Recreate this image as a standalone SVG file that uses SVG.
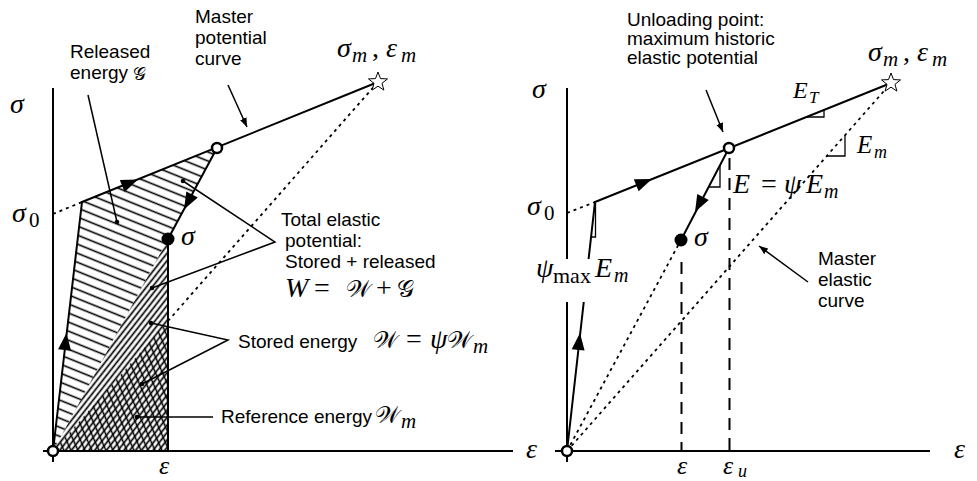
<svg xmlns="http://www.w3.org/2000/svg" xmlns:xlink="http://www.w3.org/1999/xlink" width="977" height="481" viewBox="0 0 977 481">
<style>
.ax{stroke:#000;stroke-width:2;fill:none}
.cv{stroke:#000;stroke-width:2;fill:none;stroke-linecap:round}
.dot{stroke:#000;stroke-width:1.8;fill:none;stroke-dasharray:3 4}
.dash{stroke:#000;stroke-width:2;fill:none;stroke-dasharray:12 8}
.ld{stroke:#000;stroke-width:1.5;fill:none}
.tri{stroke:#000;stroke-width:1.3;fill:none}
.t{font-family:"Liberation Sans",Arial,sans-serif;font-size:19px;fill:#000}
.m{font-family:"Liberation Serif","Times New Roman",serif;font-style:italic;font-size:28px;fill:#000}
.sub{font-size:21px}
.r{font-style:normal}
.sc{font-family:"DejaVu Sans","DejaVu Serif",serif;font-style:normal;font-size:24px}
.oc{fill:#fff;stroke:#000;stroke-width:2.5}
.fc{fill:#000}
.ldot{fill:#000}
</style>
<defs>
<pattern id="hRel" patternUnits="userSpaceOnUse" width="20" height="8.4" patternTransform="rotate(22)">
<line x1="-1" y1="4.2" x2="21" y2="4.2" stroke="#000" stroke-width="1.6"/>
</pattern>
<pattern id="hSt" patternUnits="userSpaceOnUse" width="20" height="4.6" patternTransform="rotate(-52)">
<line x1="-1" y1="2.3" x2="21" y2="2.3" stroke="#000" stroke-width="1.7"/>
</pattern>
<pattern id="hRef" patternUnits="userSpaceOnUse" width="20" height="6.4" patternTransform="rotate(66)">
<line x1="-1" y1="3.2" x2="21" y2="3.2" stroke="#000" stroke-width="1.5"/>
</pattern>
<path id="ah" d="M0,0 L-17,-6.5 L-17,6.5 Z" fill="#000"/>
<polygon id="star" points="0,-10 2.47,-3.4 9.51,-3.09 3.99,1.3 5.88,8.09 0,4.2 -5.88,8.09 -3.99,1.3 -9.51,-3.09 -2.47,-3.4" fill="#fff" stroke="#000" stroke-width="1"/>
<marker id="la" markerUnits="userSpaceOnUse" markerWidth="10" markerHeight="8" refX="9" refY="4" orient="auto">
<path d="M0,0.5 L9,4 L0,7.5 Z" fill="#000"/>
</marker>
</defs>

<!-- LEFT PANEL -->
<g id="left-regions">
<polygon id="released" points="53,451 82,202 217,148 168,239" fill="url(#hRel)"/>
<polygon id="stored" points="53,451 168,239 168,451" fill="url(#hSt)"/>
<polygon id="reference" points="53,451 168,321 168,451" fill="url(#hRef)"/>
</g>
<g id="left-axes">
<line class="ax" x1="53" y1="88" x2="53" y2="462"/>
<line class="ax" x1="43" y1="451" x2="513" y2="451"/>
</g>
<g id="left-connectors">
<line class="dot" x1="53" y1="214" x2="82" y2="202"/>
<line class="dot" x1="168" y1="321" x2="378" y2="82"/>
<line class="cv" x1="53" y1="451" x2="82" y2="202"/>
<line class="cv" x1="82" y1="202" x2="378" y2="82"/>
<line class="cv" x1="217" y1="148" x2="168" y2="239"/>
<line class="cv" x1="168" y1="239" x2="168" y2="451"/>
<use xlink:href="#ah" transform="translate(66.5,333) rotate(-83.4)"/>
<use xlink:href="#ah" transform="translate(138,179.6) rotate(-21.8)"/>
<use xlink:href="#ah" transform="translate(184,209.5) rotate(118.3)"/>
<line class="ld" x1="88" y1="95" x2="117" y2="222"/>
<line class="ld" x1="228" y1="85" x2="247" y2="127" marker-end="url(#la)"/>
<polyline class="ld" points="183,181 275,242 152,288"/>
<polyline class="ld" points="151,323 228,340 142,384"/>
<line class="ld" x1="213" y1="417" x2="137" y2="417"/>
<circle class="ldot" cx="117" cy="222" r="2.3"/>
<circle class="ldot" cx="183" cy="181" r="2.3"/>
<circle class="ldot" cx="152" cy="288" r="2.3"/>
<circle class="ldot" cx="151" cy="323" r="2.3"/>
<circle class="ldot" cx="142" cy="384" r="2.3"/>
<circle class="ldot" cx="137" cy="417" r="2.3"/>
</g>
<g id="left-points">
<circle class="oc" cx="217" cy="148" r="5"/>
<circle class="fc" cx="168" cy="239" r="6.5"/>
<circle class="oc" cx="53" cy="451" r="5"/>
<use xlink:href="#star" x="378" y="82"/>
</g>
<g id="left-labels">
<text class="m" x="10" y="113">σ</text>
<text class="m" x="12" y="222">σ<tspan class="sub r" x="29" y="227">0</tspan></text>
<text class="m" x="181" y="245">σ</text>
<text class="m" x="337" y="57">σ<tspan class="sub" x="352" y="62">m</tspan><tspan class="r" x="372" y="57">,</tspan><tspan x="386" y="57">ε</tspan><tspan class="sub" x="401" y="62">m</tspan></text>
<text class="m" x="159" y="474" style="font-size:26px">ε</text>
<text class="m" x="526" y="458">ε</text>
<text class="t" x="195" y="23">Master</text>
<text class="t" x="195" y="44">potential</text>
<text class="t" x="195" y="65">curve</text>
<text class="t" x="70" y="58">Released</text>
<text class="t" x="70" y="79">energy</text>
<text class="m sc" x="133" y="80" style="font-size:18px">𝒢</text>
<text class="t" x="281" y="226">Total elastic</text>
<text class="t" x="285" y="247">potential:</text>
<text class="t" x="285" y="268">Stored + released</text>
<text class="m" x="285" y="297">W<tspan class="r" x="314">=</tspan><tspan class="sc" x="346">𝒲</tspan><tspan class="r" x="376">+</tspan><tspan class="sc" x="397">𝒢</tspan></text>
<text class="t" x="238" y="348">Stored energy</text>
<text class="m" x="373" y="348"><tspan class="sc">𝒲</tspan><tspan class="r" x="406">=</tspan><tspan x="430">ψ</tspan><tspan class="sc" x="447">𝒲</tspan><tspan class="sub" x="473" y="353">m</tspan></text>
<text class="t" x="221" y="423">Reference energy</text>
<text class="m" x="375" y="423"><tspan class="sc">𝒲</tspan><tspan class="sub" x="401" y="428">m</tspan></text>
</g>

<!-- RIGHT PANEL -->
<g id="right-axes">
<line class="ax" x1="567" y1="88" x2="567" y2="462"/>
<line class="ax" x1="555" y1="451" x2="930" y2="451"/>
</g>
<g id="right-connectors">
<line class="cv" x1="567" y1="451" x2="595" y2="202"/>
<rect x="533" y="259" width="105" height="43" fill="#fff"/>
<line class="dot" x1="567" y1="213" x2="595" y2="202"/>
<polyline class="tri" points="591.5,237 595.5,237 595.5,203"/>
<line class="cv" x1="595" y1="202" x2="891" y2="83"/>
<polyline class="tri" points="806,117 824,117 824,110"/>
<line class="dot" x1="567" y1="451" x2="891" y2="83"/>
<polyline class="tri" points="827,156 845,156 845,135"/>
<line class="dot" x1="567" y1="451" x2="681" y2="240"/>
<line class="cv" x1="729" y1="148" x2="681" y2="240"/>
<polyline class="tri" points="708,187 720,187 720,165"/>
<line class="dash" x1="681.5" y1="262" x2="681.5" y2="451"/>
<line class="dash" x1="729.5" y1="158" x2="729.5" y2="451"/>
<use xlink:href="#ah" transform="translate(580,333) rotate(-83.6)"/>
<use xlink:href="#ah" transform="translate(652,179) rotate(-21.9)"/>
<use xlink:href="#ah" transform="translate(695,212) rotate(118.1)"/>
<line class="ld" x1="706" y1="90" x2="723" y2="132" marker-end="url(#la)"/>
<line class="ld" x1="808" y1="282" x2="759" y2="246" marker-end="url(#la)"/>
</g>
<g id="right-points">
<circle class="oc" cx="729" cy="148" r="5"/>
<circle class="fc" cx="681" cy="240" r="6.5"/>
<circle class="oc" cx="567" cy="451" r="5"/>
<use xlink:href="#star" x="891" y="83"/>
</g>
<g id="right-labels">
<text class="m" x="532" y="98">σ</text>
<text class="m" x="527" y="215">σ<tspan class="sub r" x="544" y="220">0</tspan></text>
<text class="m" x="694" y="246">σ</text>
<text class="m" x="868" y="61">σ<tspan class="sub" x="883" y="66">m</tspan><tspan class="r" x="903" y="61">,</tspan><tspan x="917" y="61">ε</tspan><tspan class="sub" x="932" y="66">m</tspan></text>
<text class="m" x="793" y="98" style="font-size:24px">E<tspan class="sub" x="809" y="103" style="font-size:17px">T</tspan></text>
<text class="m" x="857" y="153" style="font-size:25px">E<tspan class="sub" x="874" y="158" style="font-size:18px">m</tspan></text>
<text class="m" x="733" y="193">E<tspan class="r" x="761">=</tspan><tspan x="784">ψ</tspan><tspan x="806">E</tspan><tspan class="sub" x="824" y="198" style="font-size:20px">m</tspan></text>
<text class="m" x="536" y="277">ψ<tspan class="sub r" x="553" y="283" style="font-size:22px">max</tspan><tspan x="595" y="277">E</tspan><tspan class="sub" x="614" y="282" style="font-size:20px">m</tspan></text>
<text class="m" x="677" y="474" style="font-size:26px">ε</text>
<text class="m" x="723" y="474" style="font-size:26px">ε<tspan class="sub" x="738" y="477" style="font-size:18px">u</tspan></text>
<text class="m" x="954" y="458">ε</text>
<text class="t" x="627" y="26">Unloading point:</text>
<text class="t" x="627" y="45">maximum historic</text>
<text class="t" x="627" y="64">elastic potential</text>
<text class="t" x="818" y="265">Master</text>
<text class="t" x="818" y="286">elastic</text>
<text class="t" x="818" y="307">curve</text>
</g>
</svg>
